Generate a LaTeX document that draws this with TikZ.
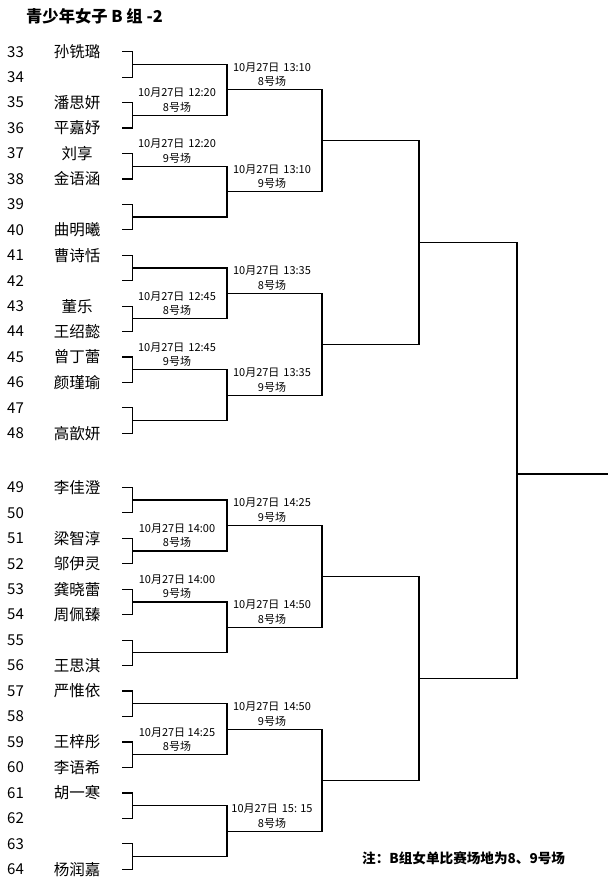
\documentclass[tikz,border=0pt]{standalone}
\usepackage{fontspec}
\setmainfont{Noto Sans CJK SC}
\usetikzlibrary{calc}
\newcommand{\gap}{\hspace{4pt}}
\begin{document}
\begin{tikzpicture}[x=1pt,y=-1pt,
  br/.style={line width=1.2pt, black},
  num/.style={anchor=west, font=\fontsize{15}{15}\selectfont, inner sep=0pt},
  nm/.style={anchor=center, font=\fontsize{15.5}{15.5}\selectfont, inner sep=0pt},
  lbl/.style={anchor=south, align=center, font=\fontsize{11}{14.5}\selectfont, inner sep=0pt},
]
\useasboundingbox (0,0) rectangle (616,887);
\node[anchor=west, inner sep=0pt, font=\bfseries\fontsize{16.3}{16.3}\selectfont] (title) at (26,16) {青少年女子 B 组 -2};
\coordinate (namecol) at (77,0);
% rows
\foreach \i in {0,...,15} {
  \pgfmathsetmacro\yy{51.7+25.44*\i}
  \pgfmathtruncatemacro\n{33+\i}
  \node[num] (n\n) at (7,\yy) {\n};
  \coordinate (p\n) at (122,\yy);
}
\foreach \i in {0,...,15} {
  \pgfmathsetmacro\yy{487.3+25.47*\i}
  \pgfmathtruncatemacro\n{49+\i}
  \node[num] (n\n) at (7,\yy) {\n};
  \coordinate (p\n) at (122,\yy);
}
% names
\foreach \n/\s in {33/孙铣璐,35/潘思妍,36/平嘉妤,37/刘享,38/金语涵,40/曲明曦,41/曹诗恬,43/董乐,44/王绍懿,45/曾丁蕾,46/颜瑾瑜,48/高歆妍,49/李佳澄,51/梁智淳,52/邬伊灵,53/龚晓蕾,54/周佩臻,56/王思淇,57/严惟依,59/王梓彤,60/李语希,61/胡一寒,64/杨润嘉} {
  \node[nm] (name\n) at (p\n -| namecol) {\s};
}
% level 1
\foreach \k in {1,...,16} {
  \pgfmathtruncatemacro\a{31+2*\k}
  \pgfmathtruncatemacro\b{32+2*\k}
  \coordinate (t\a) at ($(p\a)+(10.5,0)$);
  \draw[br] (p\a) -- (t\a) -- (t\a |- p\b) -- (p\b);
  \coordinate (m1-\k) at ($(t\a)!0.5!(t\a |- p\b)$);
  \coordinate (e1-\k) at ($(m1-\k)+(94.5,0)$);
}
% higher levels
\foreach \L/\P/\cnt/\dx in {2/1/8/95, 3/2/4/97, 4/3/2/98} {
  \foreach \k in {1,...,\cnt} {
    \pgfmathtruncatemacro\a{2*\k-1}
    \pgfmathtruncatemacro\b{2*\k}
    \draw[br] (m\P-\a) -- (e\P-\a) -- (e\P-\b) -- (m\P-\b);
    \coordinate (m\L-\k) at ($(e\P-\a)!0.5!(e\P-\b)$);
    \coordinate (e\L-\k) at ($(m\L-\k)+(\dx,0)$);
  }
}
\draw[br] (m4-1) -- (e4-1) -- (e4-2) -- (m4-2);
\coordinate (fin) at (608,474);
\draw[br] (fin -| e4-1) -- (fin);
% labels level 1
\foreach \k/\t in {2/{10月27日\gap 12:20\\8号场},3/{10月27日\gap 12:20\\9号场},6/{10月27日\gap 12:45\\8号场},7/{10月27日\gap 12:45\\9号场},10/{10月27日 14:00\\8号场},11/{10月27日 14:00\\9号场},14/{10月27日 14:25\\8号场}} {
  \node[lbl] (la\k) at ($(m1-\k)!0.5!(e1-\k)+(-2.75,-3)$) {\t};
}
% labels level 2
\foreach \k/\t in {1/{10月27日\gap 13:10\\8号场},2/{10月27日\gap 13:10\\9号场},3/{10月27日\gap 13:35\\8号场},4/{10月27日\gap 13:35\\9号场},5/{10月27日\gap 14:25\\9号场},6/{10月27日\gap 14:50\\8号场},7/{10月27日\gap 14:50\\9号场},8/{10月27日\gap 15: 15\\8号场}} {
  \node[lbl] (lb\k) at ($(m2-\k)!0.5!(e2-\k)+(-2.5,-3)$) {\t};
}
\node[anchor=west, inner sep=0pt, font=\bfseries\fontsize{13.6}{13.6}\selectfont] (note) at (362,858) {注：B组女单比赛场地为8、9号场};
\end{tikzpicture}
\end{document}
